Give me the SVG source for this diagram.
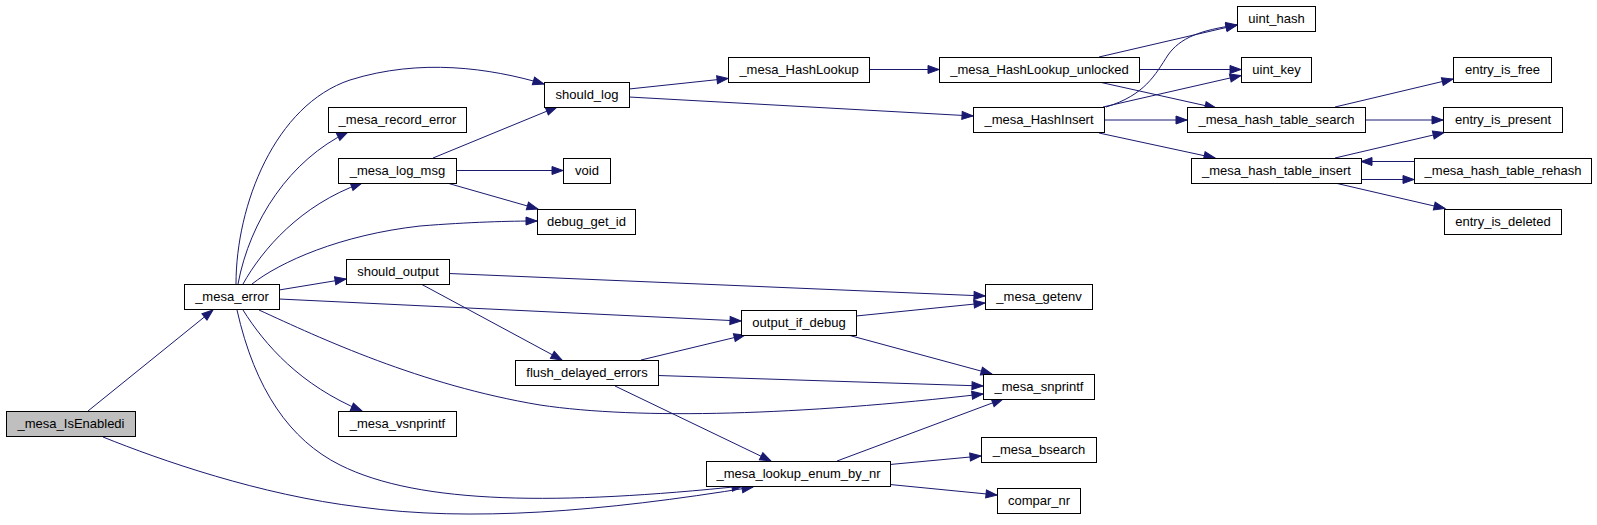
<svg xmlns="http://www.w3.org/2000/svg" width="1597" height="525" viewBox="0 0 1597 525">
<style>
.n rect{fill:#ffffff;stroke:#000000;stroke-width:1}
.n.sel rect{fill:#bfbfbf}
.n text{font-family:"Liberation Sans",Arial,sans-serif;font-size:13px;fill:#000000;text-anchor:middle}
#edges path{fill:none;stroke:#191970;stroke-width:1;marker-end:url(#arr)}
</style>
<defs>
<marker id="arr" markerWidth="11" markerHeight="8" refX="11" refY="4" orient="auto" markerUnits="userSpaceOnUse" overflow="visible">
<path d="M0,0 L11,4 L0,8 Z" fill="#191970" stroke="#191970" stroke-width="1"/>
</marker>
</defs>
<rect x="0" y="0" width="1597" height="525" fill="#ffffff"/>
<g id="edges">
<path d="M88,411 L213,310"/>
<path d="M103,437 C160,460 260,495 360,507 C470,522 600,512 753,487"/>
<path d="M236,284 C236,205 275,105 350,80 C420,58 490,68 544,84"/>
<path d="M238,284 C250,220 290,160 348,132"/>
<path d="M243,284 C262,250 300,205 362,183"/>
<path d="M252,284 C280,262 340,235 420,226 C470,222 510,221 537,221"/>
<path d="M279,290 L346,279"/>
<path d="M279,299 L741,321"/>
<path d="M259,310 C320,338 420,385 540,405 C640,420 800,415 983,394"/>
<path d="M243,310 C265,345 300,385 362,411"/>
<path d="M237,310 C255,390 290,440 340,465 C420,505 560,505 743,486"/>
<path d="M433,158 L557,107"/>
<path d="M456,170.5 L563,170.5"/>
<path d="M447,183 L538,209"/>
<path d="M449,273.5 L985,296"/>
<path d="M421,284 L562,360"/>
<path d="M641,360 L745,335"/>
<path d="M658,375.5 L983,386"/>
<path d="M615,386 L771,461"/>
<path d="M856,316 L985,303"/>
<path d="M848,335 L992,374"/>
<path d="M837,461 L1003,399"/>
<path d="M890,464.5 L981,456"/>
<path d="M890,484.5 L997,495"/>
<path d="M629,89 L728,78.5"/>
<path d="M629,97 L973,116"/>
<path d="M869,69.5 L939,69.5"/>
<path d="M1099,57 L1237,25"/>
<path d="M1139,69.5 L1241,69.5"/>
<path d="M1099,82 L1216,108"/>
<path d="M1106,107 C1145,95 1155,75 1168,55 C1180,38 1200,30 1237,25"/>
<path d="M1103,107 L1241,75.5"/>
<path d="M1104,120 L1187,120"/>
<path d="M1099,133 L1215,158"/>
<path d="M1335,107 L1453,79"/>
<path d="M1365,120 L1443,120"/>
<path d="M1335,158 L1444,132.5"/>
<path d="M1361,179.5 L1414,179.5"/>
<path d="M1414,161.5 L1361,161.5"/>
<path d="M1335,183 L1445,208.5"/>
</g>
<g id="node_IsEnabledi" class="n sel"><rect x="6.5" y="411.5" width="129" height="25"/><text x="71" y="428">_mesa_IsEnabledi</text></g>
<g id="node_mesa_error" class="n"><rect x="184.5" y="284.5" width="95" height="25"/><text x="232" y="301">_mesa_error</text></g>
<g id="node_should_log" class="n"><rect x="544.5" y="82.5" width="85" height="25"/><text x="587" y="99">should_log</text></g>
<g id="node_record_error" class="n"><rect x="328.5" y="107.5" width="138" height="25"/><text x="397.5" y="124">_mesa_record_error</text></g>
<g id="node_log_msg" class="n"><rect x="338.5" y="158.5" width="118" height="25"/><text x="397.5" y="175">_mesa_log_msg</text></g>
<g id="node_void" class="n"><rect x="563.5" y="158.5" width="47" height="25"/><text x="587" y="175">void</text></g>
<g id="node_debug_get_id" class="n"><rect x="537.5" y="209.5" width="98" height="25"/><text x="586.5" y="226">debug_get_id</text></g>
<g id="node_should_output" class="n"><rect x="346.5" y="259.5" width="103" height="25"/><text x="398" y="276">should_output</text></g>
<g id="node_output_if_debug" class="n"><rect x="741.5" y="310.5" width="115" height="25"/><text x="799" y="327">output_if_debug</text></g>
<g id="node_flush_delayed_errors" class="n"><rect x="515.5" y="360.5" width="143" height="25"/><text x="587" y="377">flush_delayed_errors</text></g>
<g id="node_vsnprintf" class="n"><rect x="338.5" y="411.5" width="118" height="25"/><text x="397.5" y="428">_mesa_vsnprintf</text></g>
<g id="node_lookup_enum_by_nr" class="n"><rect x="706.5" y="461.5" width="184" height="25"/><text x="798.5" y="478">_mesa_lookup_enum_by_nr</text></g>
<g id="node_getenv" class="n"><rect x="985.5" y="284.5" width="107" height="25"/><text x="1039" y="301">_mesa_getenv</text></g>
<g id="node_snprintf" class="n"><rect x="983.5" y="374.5" width="111" height="25"/><text x="1039" y="391">_mesa_snprintf</text></g>
<g id="node_bsearch" class="n"><rect x="981.5" y="437.5" width="115" height="25"/><text x="1039" y="454">_mesa_bsearch</text></g>
<g id="node_compar_nr" class="n"><rect x="997.5" y="488.5" width="83" height="25"/><text x="1039" y="505">compar_nr</text></g>
<g id="node_HashLookup" class="n"><rect x="728.5" y="57.5" width="141" height="25"/><text x="799" y="74">_mesa_HashLookup</text></g>
<g id="node_HashLookup_unlocked" class="n"><rect x="939.5" y="57.5" width="200" height="25"/><text x="1039.5" y="74">_mesa_HashLookup_unlocked</text></g>
<g id="node_HashInsert" class="n"><rect x="973.5" y="107.5" width="131" height="25"/><text x="1039" y="124">_mesa_HashInsert</text></g>
<g id="node_uint_hash" class="n"><rect x="1237.5" y="6.5" width="78" height="25"/><text x="1276.5" y="23">uint_hash</text></g>
<g id="node_uint_key" class="n"><rect x="1241.5" y="57.5" width="70" height="25"/><text x="1276.5" y="74">uint_key</text></g>
<g id="node_hash_table_search" class="n"><rect x="1187.5" y="107.5" width="178" height="25"/><text x="1276.5" y="124">_mesa_hash_table_search</text></g>
<g id="node_hash_table_insert" class="n"><rect x="1191.5" y="158.5" width="170" height="25"/><text x="1276.5" y="175">_mesa_hash_table_insert</text></g>
<g id="node_entry_is_free" class="n"><rect x="1453.5" y="57.5" width="98" height="25"/><text x="1502.5" y="74">entry_is_free</text></g>
<g id="node_entry_is_present" class="n"><rect x="1443.5" y="107.5" width="119" height="25"/><text x="1503" y="124">entry_is_present</text></g>
<g id="node_hash_table_rehash" class="n"><rect x="1414.5" y="158.5" width="177" height="25"/><text x="1503" y="175">_mesa_hash_table_rehash</text></g>
<g id="node_entry_is_deleted" class="n"><rect x="1444.5" y="209.5" width="117" height="25"/><text x="1503" y="226">entry_is_deleted</text></g>
</svg>
